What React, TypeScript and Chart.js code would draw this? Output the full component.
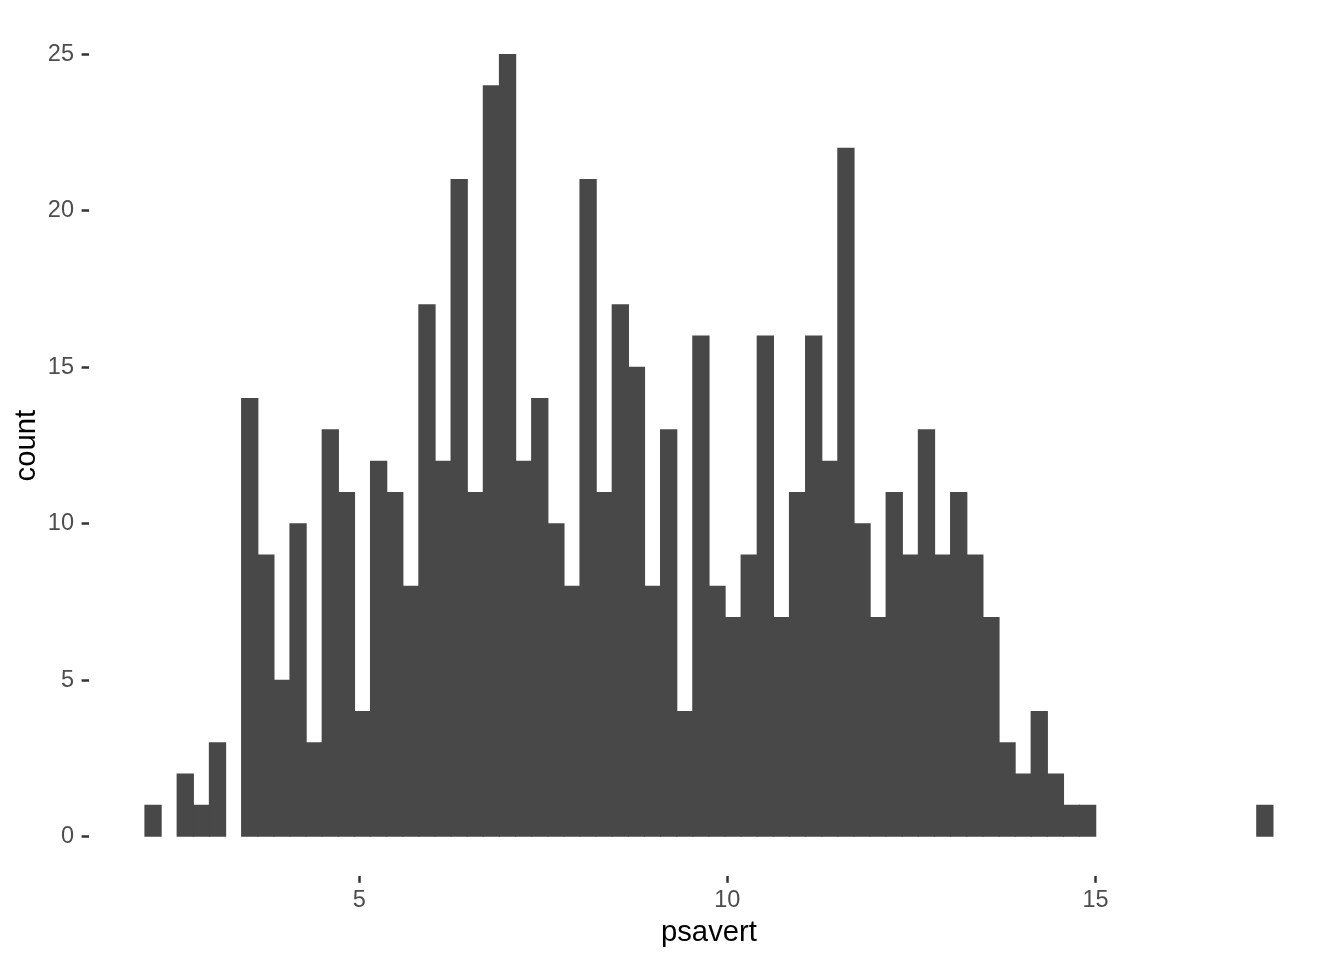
import React, { useEffect, useRef } from "react";
import { Chart, registerables } from "chart.js";

Chart.register(...registerables);

// Histogram of psavert (70 bins)
const BIN_START = 2.2; // centre of first bin
const BIN_END = 17.3; // centre of last bin
const BIN_COUNT = 70;
const COUNTS: number[] = [
  1, 0, 2, 1, 3, 0, 14, 9, 5, 10,
  3, 13, 11, 4, 12, 11, 8, 17, 12, 21,
  11, 24, 25, 12, 14, 10, 8, 21, 11, 17,
  15, 8, 13, 4, 16, 8, 7, 9, 16, 7,
  11, 16, 12, 22, 10, 7, 11, 9, 13, 9,
  11, 9, 7, 3, 2, 4, 2, 1, 1, 0,
  0, 0, 0, 0, 0, 0, 0, 0, 0, 1,
];
const X_TICKS: number[] = [5, 10, 15];
const Y_TICKS: number[] = [0, 5, 10, 15, 20, 25];
const X_TITLE = "psavert";
const Y_TITLE = "count";

const BIN_WIDTH = (BIN_END - BIN_START) / (BIN_COUNT - 1);
const CENTERS: number[] = COUNTS.map((_, i) => BIN_START + i * BIN_WIDTH);

const BAR_COLOR = "#484848";
const FONT = "'Liberation Sans', Arial, Helvetica, sans-serif";

export default function App() {
  const ref = useRef<HTMLCanvasElement | null>(null);

  useEffect(() => {
    document.body.style.margin = "0";
    const canvas = ref.current;
    if (!canvas) return;
    const dataMin = BIN_START - BIN_WIDTH / 2;
    const dataMax = BIN_END + BIN_WIDTH / 2;
    const xPad = (dataMax - dataMin) * 0.05;
    const yMax = Math.max(...COUNTS);
    const yPad = yMax * 0.05;

    const chart = new Chart(canvas, {
      type: "bar",
      data: {
        datasets: [
          {
            data: CENTERS.map((c, i) => ({ x: c, y: COUNTS[i] })),
            backgroundColor: (ctx: any) =>
              COUNTS[ctx.dataIndex] === 0 ? "rgba(0,0,0,0)" : BAR_COLOR,
            borderWidth: 0,
            barPercentage: 1,
            categoryPercentage: 1,
            inflateAmount: 0.6,
          },
        ],
      },
      options: {
        responsive: false,
        animation: false,
        devicePixelRatio: 1,
        layout: { padding: { top: 15.4, right: 14.7, left: 0, bottom: 0 } },
        plugins: {
          legend: { display: false },
          tooltip: { enabled: false },
        },
        scales: {
          x: {
            type: "linear",
            offset: false,
            min: dataMin - xPad,
            max: dataMax + xPad,
            afterBuildTicks: (s: any) => {
              s.ticks = X_TICKS.map((v) => ({ value: v }));
            },
            afterFit: (s: any) => {
              s.height = 84.2;
              s.paddingLeft = 0;
              s.paddingRight = 0;
            },
            grid: {
              display: true,
              drawOnChartArea: false,
              drawTicks: true,
              tickLength: 7,
              tickColor: "#333333",
              tickWidth: 2.5,
              offset: false,
            },
            border: { display: false },
            ticks: {
              color: "#4D4D4D",
              font: { family: FONT, size: 23.5 },
              padding: 4,
              maxRotation: 0,
              autoSkip: false,
            },
            title: {
              display: true,
              text: X_TITLE,
              color: "#000000",
              font: { family: FONT, size: 29.3 },
              padding: { top: 0, bottom: 10 },
            },
          },
          y: {
            type: "linear",
            min: -yPad,
            max: yMax + yPad,
            afterBuildTicks: (s: any) => {
              s.ticks = Y_TICKS.map((v) => ({ value: v }));
            },
            afterFit: (s: any) => {
              s.width = 88.6;
              s.paddingTop = 0;
              s.paddingBottom = 0;
            },
            grid: {
              display: true,
              drawOnChartArea: false,
              drawTicks: true,
              tickLength: 7,
              tickColor: "#333333",
              tickWidth: 2.5,
            },
            border: { display: false },
            ticks: {
              color: "#4D4D4D",
              font: { family: FONT, size: 23.5 },
              padding: 7.6,
              autoSkip: false,
            },
            title: {
              display: true,
              text: Y_TITLE,
              color: "#000000",
              font: { family: FONT, size: 29.3 },
              padding: { top: 9.7, bottom: 0 },
            },
          },
        },
      },
    } as any);

    return () => {
      chart.destroy();
    };
  }, []);

  return (
    <div style={{ width: 1344, height: 960, background: "#ffffff" }}>
      <canvas ref={ref} width={1344} height={960} style={{ display: "block" }} />
    </div>
  );
}
